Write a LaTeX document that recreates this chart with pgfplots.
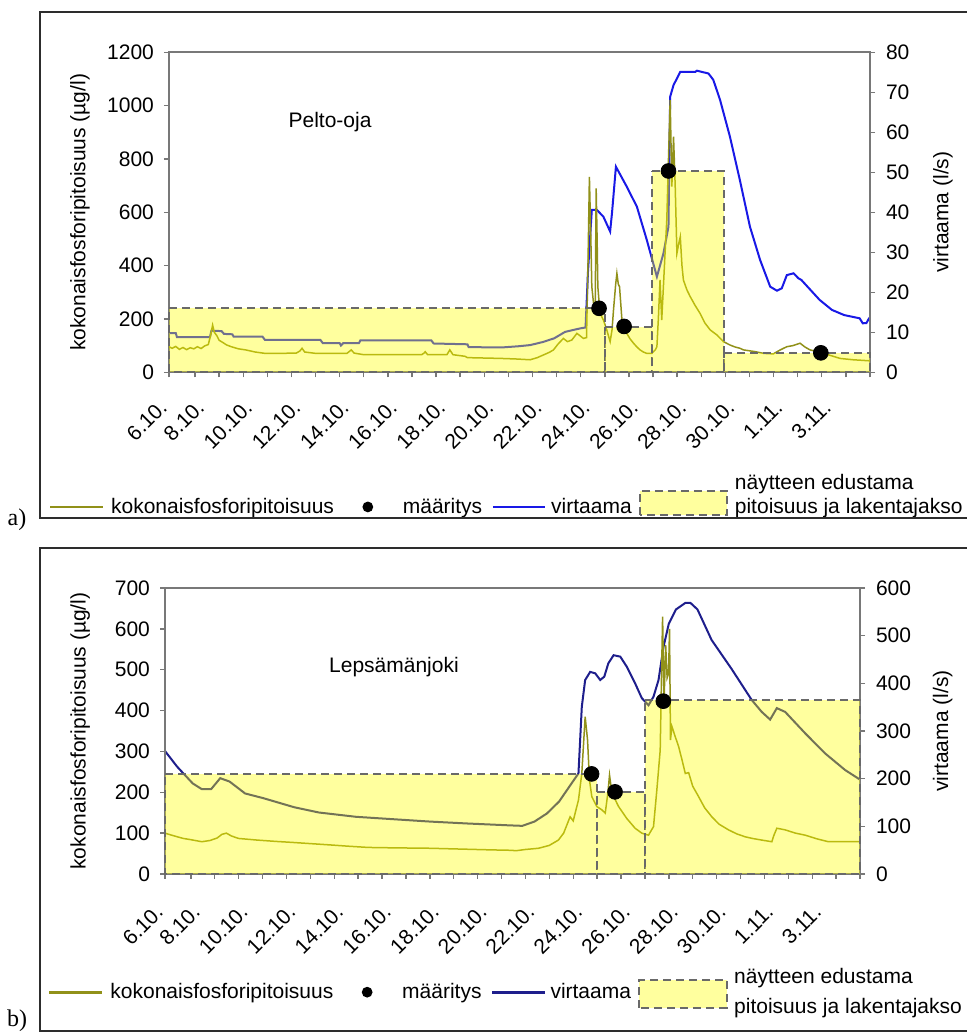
\documentclass[border=0pt]{standalone}
\usepackage{fontspec}
\setmainfont{Liberation Sans}
\newfontfamily\serifont{Liberation Serif}
\usepackage{pgfplots}
\pgfplotsset{compat=1.18}

\definecolor{olv}{RGB}{145,145,25}
\definecolor{flowA}{RGB}{25,25,230}
\definecolor{flowB}{RGB}{30,30,140}
\definecolor{boxy}{RGB}{255,255,0}
\definecolor{dashc}{RGB}{105,105,105}
\definecolor{axc}{RGB}{120,120,120}
\definecolor{framec}{RGB}{45,45,45}

\newcommand{\fs}{\fontsize{10.5}{12.5}\selectfont}

\pgfplotsset{
  base/.style={
    scale only axis, clip=false,
    xmin=0.92, xmax=30,
    tick align=outside,
    major tick length=2.5pt, minor tick length=2.5pt,
    axis line style={axc, line width=0.8pt},
    tick style={axc, line width=0.7pt},
    tick label style={font=\fs},
    /pgf/number format/assume math mode=true,
    /pgf/number format/1000 sep={},
    label style={font=\fs},
  },
  xax/.style={
    xtick={2,4,...,28},
    xticklabels={8.10.,10.10.,12.10.,14.10.,16.10.,18.10.,20.10.,22.10.,24.10.,26.10.,28.10.,30.10.,1.11.,3.11.},
    minor xtick={3,5,...,29,30},
    extra x ticks={0.92}, extra x tick labels={6.10.},
    extra x tick style={xticklabel style={xshift=-3.9pt, yshift=3.9pt}},
    xtick pos=left, ytick pos=left,
    yticklabel style={xshift=-1.5pt},
  },
  bxstyle/.style={draw=dashc, line width=1pt, dash pattern=on 4pt off 2.5pt, fill=boxy, fill opacity=0.38},
  lgd/.style={legend columns=-1,
    legend style={draw=none, fill=none, inner sep=0pt, outer sep=0pt, column sep=0pt,
      nodes={inner sep=0pt, outer sep=0pt}, cells={anchor=base west}, font=\fs}},
  limg/.style={legend image code/.code={%
    \path[draw=none, fill=none] (0,0) rectangle (30.5pt,0.1pt);
    \draw[draw=olv, fill=none, solid, line width=1.1pt] (0,3.2pt) -- (26.5pt,3.2pt);}},
  dimg/.style={legend image code/.code={%
    \path[draw=none, fill=none] (0,0) rectangle (34.4pt,0.1pt);
    \fill[fill=black, draw=none] (16.9pt,3.4pt) circle (2.7pt);}},
  fimg/.style={legend image code/.code={%
    \path[draw=none, fill=none] (0,0) rectangle (34.5pt,0.1pt);
    \draw[draw=#1, fill=none, solid, line width=1.1pt] (5.3pt,3.2pt) -- (31.5pt,3.2pt);}},
  bimg/.style 2 args={legend image code/.code={%
    \path[draw=none, fill=none] (0,0) rectangle (51.6pt,0.1pt);
    \fill[fill=boxy, fill opacity=0.38, draw=none] (4pt,#1) rectangle (47.8pt,#2);
    \draw[draw=dashc, fill=none, line width=1pt, dash pattern=on 4pt off 2.5pt] (4pt,#1) rectangle (47.8pt,#2);}},
}

\begin{document}
\begin{tikzpicture}
\useasboundingbox (0,0) rectangle (483pt,517.5pt);

% ================= PANEL A =================
\begin{axis}[base, at={(84.5pt,331.35pt)}, anchor=south west, width=350.5pt, height=160pt,
  axis x line=none, axis y line*=right, ymin=0, ymax=80, ytick={0,10,...,80},
  yticklabel style={xshift=2pt},
  ylabel={virtaama (l/s)}, ylabel style={at={(axis description cs:1.104,0.5)}, anchor=center}]
\addplot[flowA, line width=1pt] coordinates {
(0.92,9.8)(1.2,9.8)(1.25,8.8)(2.62,8.8)(2.68,10.4)(3.1,10.3)(3.2,9.6)(3.55,9.5)(3.6,8.9)(4.8,8.9)(4.9,8.1)
(7.2,8.1)(7.3,7.3)(8.0,7.3)(8.05,6.7)(8.15,7.3)(8.8,7.3)(8.86,8.0)(11.8,8.0)(11.9,7.2)(13.3,7.0)(13.35,6.3)
(14.7,6.2)(15.4,6.5)(15.9,6.8)(16.45,7.6)(16.9,8.5)(17.35,10.1)(17.7,10.6)(18.0,11.0)(18.2,11.2)(18.3,25)
(18.46,40.6)(18.67,40.6)(18.94,38.9)(19.22,35.2)(19.3,40)(19.46,51.4)(19.91,46.4)(20.33,41.4)(20.74,33.1)
(21.16,23.9)(21.43,29.7)(21.64,36.4)(21.71,68.9)(21.85,71.8)(22.13,75.1)(22.75,75.1)(22.82,75.4)(23.3,74.7)
(23.5,73.1)(23.78,68.1)(24.19,58.9)(24.6,48.1)(25.02,36.4)(25.44,28.1)(25.86,21.4)(26.14,20.4)(26.34,21.0)
(26.55,24.3)(26.83,24.75)(27.03,23.5)(27.15,23.1)(27.91,18.1)(28.42,15.6)(28.93,14.3)(29.57,13.5)(29.7,12.25)
(29.85,12.3)(29.96,13.5)(30,13.5)};
\end{axis}

\begin{axis}[base, xax, lgd, at={(84.5pt,331.35pt)}, anchor=south west, width=350.5pt, height=160pt,
  ymin=0, ymax=1200, ytick={0,200,...,1200},
  xticklabel style={yshift=-9pt, rotate=45, anchor=north east, inner sep=1pt},
  ylabel={kokonaisfosforipitoisuus (µg/l)}, ylabel style={at={(axis description cs:-0.127,0.5)}, anchor=center},
  legend style={at={(-0.1712,-0.442)}, anchor=base west}]
\addplot[olv, line width=0.75pt, limg] coordinates {
(0.92,96)(1.05,90)(1.2,97)(1.35,86)(1.5,93)(1.65,85)(1.8,92)(1.95,88)(2.1,96)(2.25,89)(2.4,99)(2.55,104)(2.65,140)
(2.73,177)(2.8,150)(2.9,138)(3.0,120)(3.15,112)(3.3,103)(3.5,96)(3.8,88)(4.1,84)(4.5,76)(4.9,71)(5.5,71)(6.2,72)
(6.35,80)(6.44,90)(6.55,76)(7.0,71)(8.3,71)(8.4,78)(8.48,84)(8.6,72)(9.0,66)(10.5,66)(11.4,66)(11.5,72)(11.55,77)
(11.65,66)(12.45,66)(12.57,84)(12.7,66)(13.2,60)(13.3,55)(14.7,52)(15.3,50)(15.9,47)(16.2,55)(16.45,65)(16.7,75)
(16.87,84)(17.05,105)(17.28,127)(17.45,115)(17.63,121)(17.75,135)(17.84,146)(18.0,135)(18.11,127)(18.24,130)
(18.3,400)(18.36,733)(18.42,500)(18.46,321)(18.53,260)(18.6,234)(18.64,690)(18.68,500)(18.71,321)(18.8,221)
(18.94,196)(19.08,159)(19.22,115)(19.3,160)(19.36,234)(19.45,330)(19.5,371)(19.56,330)(19.61,321)(19.71,196)
(19.8,165)(19.91,146)(20.05,125)(20.19,109)(20.33,95)(20.46,84)(20.6,76)(20.74,71)(20.95,71)(21.1,85)(21.16,96)
(21.22,200)(21.29,346)(21.36,196)(21.43,321)(21.5,450)(21.57,571)(21.64,800)(21.71,1021)(21.78,696)(21.85,884)
(21.92,696)(21.99,446)(22.06,480)(22.13,508)(22.2,400)(22.26,346)(22.4,310)(22.54,284)(22.75,250)(22.95,221)
(23.15,185)(23.37,159)(23.65,140)(23.92,115)(24.2,102)(24.4,95)(24.61,90)(24.75,84)(25.2,78)(25.58,71)(25.99,69)
(26.14,77)(26.3,85)(26.55,96)(26.8,100)(27.1,109)(27.3,95)(27.51,84)(27.8,78)(28.07,71)(28.4,62)(28.76,52)
(29.3,47)(30.0,43)};
\addlegendentry{kokonaisfosforipitoisuus}
\addplot[only marks, mark=*, mark size=3.7pt, mark options={draw=black, fill=black}, dimg]
 coordinates {(18.76,240)(19.8,172)(21.64,755)(27.96,73)};
\addlegendentry{määritys}
\addlegendimage{fimg=flowA}
\addlegendentry{virtaama}
\addplot[bxstyle, bimg={-0.6pt}{11.4pt}] coordinates {(0.92,240) (19,240)} \closedcycle;
\addlegendentry{\vbox{\baselineskip=12pt\hbox{näytteen edustama}\hbox{pitoisuus ja lakentajakso}}}
\addplot[bxstyle, forget plot] coordinates {(19,170) (20.97,170)} \closedcycle;
\addplot[bxstyle, forget plot] coordinates {(20.97,755) (23.95,755)} \closedcycle;
\addplot[bxstyle, forget plot] coordinates {(23.95,73) (30,73)} \closedcycle;
\node[font=\fs] at (axis cs:7.6,939) {Pelto-oja};
\end{axis}

% ================= PANEL B =================
\begin{axis}[base, at={(82.5pt,80.5pt)}, anchor=south west, width=347.5pt, height=143pt,
  axis x line=none, axis y line*=right, ymin=0, ymax=600, ytick={0,100,...,600},
  yticklabel style={xshift=2pt},
  ylabel={virtaama (l/s)}, ylabel style={at={(axis description cs:1.119,0.5)}, anchor=center}]
\addplot[flowB, line width=1pt] coordinates {
(0.92,258)(1.43,225)(2.08,190)(2.46,178)(2.85,178)(3.23,201)(3.62,194)(4.27,169)(5.04,159)(6.33,140)(7.36,129)
(8.91,120)(10.45,115)(12.0,110)(13.55,106)(15.35,102)(15.87,101)(16.38,110)(16.9,127)(17.41,152)(17.93,190)
(18.22,211)(18.36,351)(18.5,407)(18.71,424)(18.92,421)(19.13,407)(19.3,414)(19.47,442)(19.69,459)(19.97,456)
(20.24,435)(20.59,400)(20.87,369)(21.15,354)(21.36,372)(21.57,407)(21.78,477)(22.0,525)(22.3,555)(22.7,569)
(22.9,569)(23.2,555)(23.79,491)(24.63,430)(25.47,365)(25.89,340)(26.24,324)(26.52,348)(26.87,340)(27.71,295)
(28.54,253)(29.38,218)(30,198)};
\end{axis}

\begin{axis}[base, xax, lgd, at={(82.5pt,80.5pt)}, anchor=south west, width=347.5pt, height=143pt,
  ymin=0, ymax=700, ytick={0,100,...,700},
  xticklabel style={yshift=-10.5pt, rotate=45, anchor=north east, inner sep=1pt},
  ylabel={kokonaisfosforipitoisuus (µg/l)}, ylabel style={at={(axis description cs:-0.122,0.5)}, anchor=center},
  legend style={at={(-0.1679,-0.437)}, anchor=base west}]
\addplot[olv, line width=0.75pt, limg] coordinates {
(0.92,100)(1.2,95)(1.5,90)(1.69,87)(2.0,84)(2.46,79)(2.8,82)(3.1,88)(3.3,97)(3.49,100)(3.7,93)(4.0,87)(4.78,83)
(5.5,80)(6.33,77)(7.1,74)(7.87,71)(8.6,68)(9.42,65)(10.5,64)(12.0,63)(13.3,61)(14.58,59)(15.4,58)(15.61,57)
(16.0,60)(16.55,63)(17.0,70)(17.38,83)(17.6,100)(17.87,140)(18.0,130)(18.22,181)(18.36,246)(18.5,385)(18.6,328)
(18.68,230)(18.78,189)(18.99,165)(19.2,157)(19.34,149)(19.45,198)(19.52,242)(19.62,198)(19.9,165)(20.24,136)
(20.59,112)(20.87,100)(21.15,95)(21.36,116)(21.5,206)(21.64,303)(21.74,630)(21.8,420)(21.87,560)(21.93,480)
(21.99,491)(22.03,600)(22.07,328)(22.13,361)(22.27,336)(22.41,312)(22.55,280)(22.69,246)(22.83,248)(23.0,215)
(23.25,189)(23.5,162)(23.8,140)(24.1,122)(24.5,108)(24.85,98)(25.2,91)(25.5,87)(25.89,83)(26.31,79)(26.4,95)
(26.52,112)(26.7,110)(26.87,108)(27.3,100)(27.71,95)(28.2,86)(28.68,79)(29.3,79)(30,79)};
\addlegendentry{kokonaisfosforipitoisuus}
\addplot[only marks, mark=*, mark size=3.7pt, mark options={draw=black, fill=black}, dimg]
 coordinates {(18.77,245)(19.75,201)(21.77,423)};
\addlegendentry{määritys}
\addlegendimage{fimg=flowB}
\addlegendentry{virtaama}
\addplot[bxstyle, bimg={-4.3pt}{9.7pt}] coordinates {(0.92,245) (19,245)} \closedcycle;
\addlegendentry{\raisebox{-7.5pt}{\vbox{\baselineskip=15pt\hbox{näytteen edustama}\hbox{pitoisuus ja lakentajakso}}}}
\addplot[bxstyle, forget plot] coordinates {(19,200) (21,200)} \closedcycle;
\addplot[bxstyle, forget plot] coordinates {(21,425) (30,425)} \closedcycle;
\node[font=\fs] at (axis cs:10.5,507) {Lepsämänjoki};
\end{axis}

% ================= FRAMES =================
\draw[framec, line width=1pt] (490pt,511.5pt) -- (20pt,511.5pt) -- (20pt,258.5pt) -- (490pt,258.5pt);
\draw[framec, line width=1pt] (490pt,243.5pt) -- (20pt,243.5pt) -- (20pt,2pt) -- (490pt,2pt);
\node[font=\serifont\fontsize{12}{14}\selectfont] at (8.5pt,257.5pt) {a)};
\node[font=\serifont\fontsize{12}{14}\selectfont] at (8.5pt,7pt) {b)};
\end{tikzpicture}
\end{document}
